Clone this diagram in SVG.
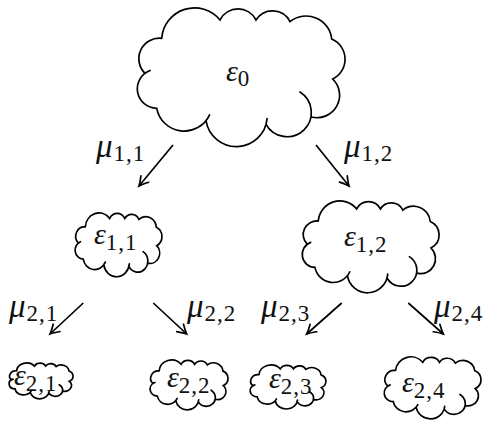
<svg xmlns="http://www.w3.org/2000/svg" xmlns:xlink="http://www.w3.org/1999/xlink" width="484" height="421" viewBox="0 0 484 421">
<style>
.cl{fill:none;stroke:#000;stroke-width:1.7;vector-effect:non-scaling-stroke;stroke-linecap:round}
.v{font-family:"Liberation Serif",serif;font-style:italic;font-size:30px;fill:#111}
.s{font-style:normal;font-size:23px;letter-spacing:1px}
.m{font-family:"Liberation Serif",serif;font-style:italic;font-size:33px;fill:#111}
.ms{font-style:normal;font-size:23px;letter-spacing:1px}
.ar{fill:none;stroke:#000;stroke-width:1.7;marker-end:url(#ah)}
</style>
<defs>
<path id="cloud" class="cl" d="M 161.7 38.3 A 32.9 32.9 0 0 1 220 20 A 20.2 20.2 0 0 1 256 20 A 19.5 19.5 0 0 1 290 21.7 A 25.7 25.7 0 0 1 331.7 39 A 22 22 0 0 1 332.7 79 A 22.5 22.5 0 0 1 311.5 117 M 300 92 A 24.2 24.2 0 1 1 266 124.3 M 267.1 118.5 A 30.8 30.8 0 0 1 206 120.7 M 209.6 114.9 A 28 28 0 0 1 156.7 108.3 A 19.5 19.5 0 0 1 150.1 70.5 M 145 73.3 A 20.5 20.5 0 0 1 161.7 38.3"/>
<marker id="ah" markerUnits="userSpaceOnUse" markerWidth="16" markerHeight="16" refX="0" refY="0" viewBox="-12 -8 14 16" orient="auto" overflow="visible">
<path d="M -9 -5 Q -3 -1.2 0 0 Q -3 1.2 -9 5" fill="none" stroke="#000" stroke-width="1.7" stroke-linecap="round"/>
</marker>
</defs>
<g id="connectors">
<line class="ar" x1="173" y1="145" x2="139" y2="186"/>
<line class="ar" x1="316" y1="145" x2="349" y2="186"/>
<line class="ar" x1="83.3" y1="303" x2="50" y2="334"/>
<line class="ar" x1="153.3" y1="303" x2="186.7" y2="334"/>
<line class="ar" x1="341.7" y1="303" x2="306.7" y2="334"/>
<line class="ar" x1="408.3" y1="303" x2="443.3" y2="334"/>
<text class="m" x="96" y="157">μ<tspan class="ms" dx="1" dy="4">1,1</tspan></text>
<text class="m" x="344" y="157">μ<tspan class="ms" dx="1" dy="4">1,2</tspan></text>
<text class="m" x="9" y="317">μ<tspan class="ms" dx="1" dy="4">2,1</tspan></text>
<text class="m" x="187" y="317">μ<tspan class="ms" dx="1" dy="4">2,2</tspan></text>
<text class="m" x="261" y="317">μ<tspan class="ms" dx="1" dy="4">2,3</tspan></text>
<text class="m" x="434" y="317">μ<tspan class="ms" dx="1" dy="4">2,4</tspan></text>
</g>
<g id="e0">
<use xlink:href="#cloud"/>
<text class="v" x="226" y="81">ε<tspan class="s" dy="5">0</tspan></text>
</g>
<g id="e11">
<use xlink:href="#cloud" transform="matrix(0.418 0 0 0.460 17.7 209.3)"/>
<text class="v" x="94" y="244">ε<tspan class="s" dy="6">1,1</tspan></text>
</g>
<g id="e12">
<use xlink:href="#cloud" transform="matrix(0.659 0 0 0.662 211.7 195.7)"/>
<text class="v" x="344" y="246">ε<tspan class="s" dy="6">1,2</tspan></text>
</g>
<g id="e21">
<use xlink:href="#cloud" transform="matrix(0.308 0 0 0.259 -33.2 360.9)"/>
<text class="v" x="14" y="385">ε<tspan class="s" dy="6">2,1</tspan></text>
</g>
<g id="e22">
<use xlink:href="#cloud" transform="matrix(0.375 0 0 0.360 98.6 357.1)"/>
<text class="v" x="167" y="387">ε<tspan class="s" dy="6">2,2</tspan></text>
</g>
<g id="e23">
<use xlink:href="#cloud" transform="matrix(0.365 0 0 0.317 200 362.5)"/>
<text class="v" x="269" y="388">ε<tspan class="s" dy="6">2,3</tspan></text>
</g>
<g id="e24">
<use xlink:href="#cloud" transform="matrix(0.466 0 0 0.446 320.2 353.4)"/>
<text class="v" x="402" y="392">ε<tspan class="s" dy="6">2,4</tspan></text>
</g>
</svg>
